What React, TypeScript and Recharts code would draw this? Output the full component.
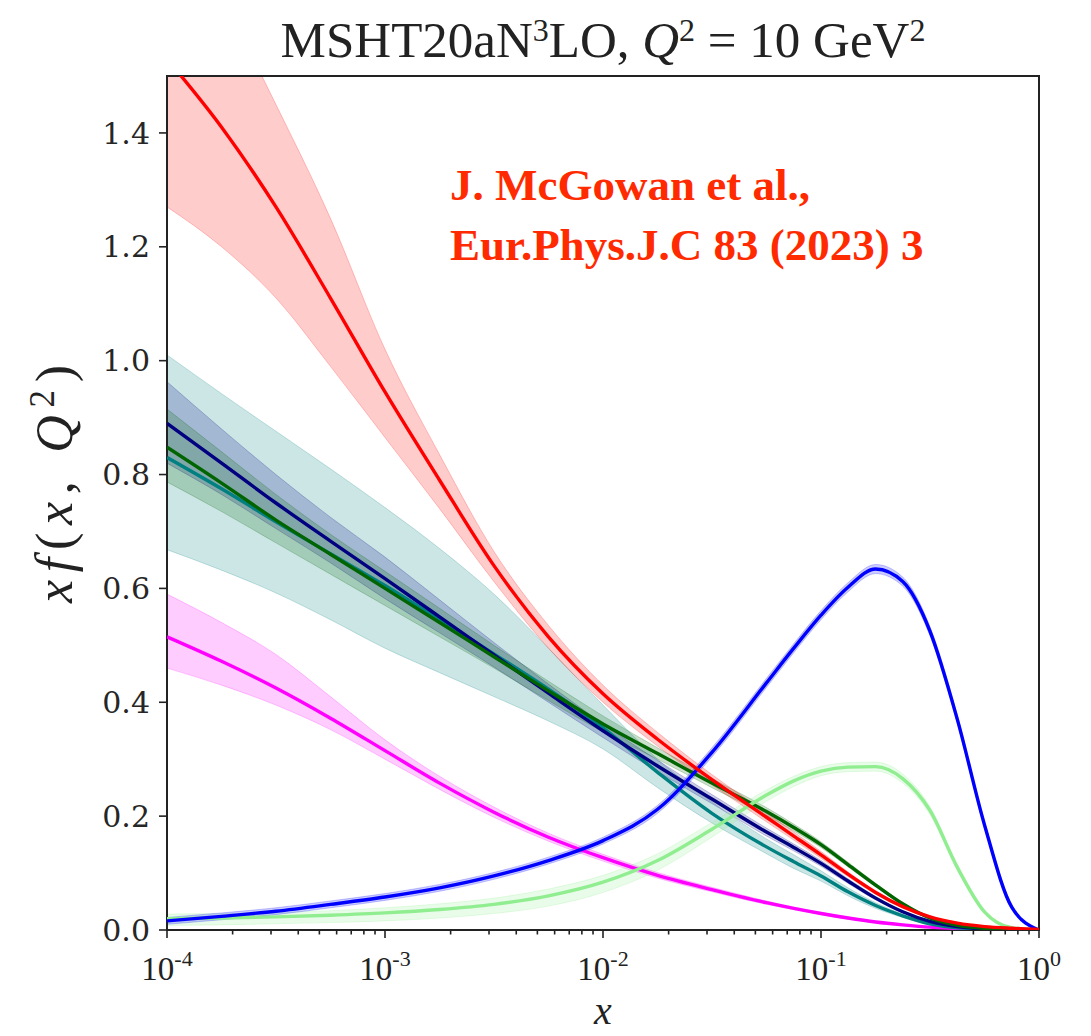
import {
  ComposedChart,
  Area,
  Line,
  XAxis,
  YAxis,
  ReferenceArea,
} from 'recharts'

// log-spaced sampling points shared by every curve
const xGrid = [
  1e-4, 1.78e-4, 3.16e-4, 5.62e-4, 1e-3, 1.78e-3, 3.16e-3, 5.62e-3, 1e-2,
  1.78e-2, 3.16e-2, 5.62e-2, 7.5e-2, 0.1, 0.133, 0.178, 0.237, 0.316, 0.422,
  0.562, 0.75, 1,
]

// g/10
const gluon = [1.53, 1.41, 1.27, 1.11, 0.945, 0.79, 0.64, 0.515, 0.415, 0.335, 0.264, 0.198, 0.165, 0.132, 0.098, 0.066, 0.041, 0.023, 0.012, 0.006, 0.003, 0.001]
const gluonLo = [1.27, 1.2, 1.11, 0.99, 0.865, 0.74, 0.612, 0.495, 0.4, 0.323, 0.255, 0.19, 0.158, 0.126, 0.094, 0.063, 0.039, 0.021, 0.011, 0.005, 0.002, 0.0005]
const gluonHi = [1.82, 1.64, 1.45, 1.25, 1.02, 0.835, 0.665, 0.535, 0.43, 0.347, 0.273, 0.206, 0.172, 0.138, 0.102, 0.069, 0.043, 0.025, 0.013, 0.007, 0.004, 0.002]

// u valence
const uv = [0.016, 0.024, 0.033, 0.045, 0.058, 0.074, 0.095, 0.122, 0.157, 0.212, 0.312, 0.434, 0.495, 0.553, 0.602, 0.634, 0.612, 0.525, 0.37, 0.185, 0.04, 0]
const uvLo = [0.01, 0.018, 0.027, 0.039, 0.052, 0.068, 0.089, 0.116, 0.151, 0.205, 0.304, 0.426, 0.487, 0.545, 0.594, 0.626, 0.604, 0.517, 0.363, 0.179, 0.036, 0]
const uvHi = [0.022, 0.03, 0.039, 0.051, 0.064, 0.08, 0.101, 0.128, 0.163, 0.219, 0.32, 0.442, 0.503, 0.561, 0.61, 0.642, 0.62, 0.533, 0.377, 0.191, 0.044, 0]

// d valence
const dv = [0.02, 0.021, 0.023, 0.026, 0.03, 0.036, 0.045, 0.06, 0.084, 0.122, 0.177, 0.237, 0.262, 0.279, 0.286, 0.287, 0.266, 0.21, 0.11, 0.032, 0.004, 0]
const dvLo = [0.008, 0.009, 0.011, 0.013, 0.016, 0.021, 0.029, 0.042, 0.066, 0.105, 0.163, 0.226, 0.252, 0.271, 0.278, 0.279, 0.258, 0.203, 0.105, 0.029, 0.002, 0]
const dvHi = [0.028, 0.029, 0.031, 0.034, 0.039, 0.046, 0.056, 0.072, 0.096, 0.134, 0.189, 0.246, 0.27, 0.287, 0.294, 0.295, 0.274, 0.217, 0.115, 0.035, 0.005, 0]

// anti-up
const ubar = [0.89, 0.82, 0.75, 0.683, 0.617, 0.55, 0.483, 0.416, 0.35, 0.288, 0.23, 0.172, 0.145, 0.117, 0.086, 0.056, 0.032, 0.015, 0.006, 0.002, 0.001, 0]
const ubarLo = [0.82, 0.765, 0.705, 0.645, 0.582, 0.522, 0.462, 0.4, 0.338, 0.278, 0.222, 0.165, 0.139, 0.112, 0.082, 0.053, 0.03, 0.014, 0.005, 0.001, 0, 0]
const ubarHi = [0.963, 0.88, 0.8, 0.725, 0.655, 0.58, 0.505, 0.432, 0.362, 0.298, 0.238, 0.179, 0.151, 0.122, 0.09, 0.059, 0.034, 0.016, 0.007, 0.003, 0.001, 0]

// anti-down
const dbar = [0.848, 0.785, 0.72, 0.66, 0.6, 0.54, 0.48, 0.42, 0.362, 0.31, 0.258, 0.208, 0.18, 0.15, 0.115, 0.079, 0.046, 0.021, 0.008, 0.003, 0.001, 0]
const dbarLo = [0.787, 0.735, 0.68, 0.625, 0.57, 0.515, 0.46, 0.403, 0.348, 0.3, 0.25, 0.201, 0.174, 0.145, 0.111, 0.076, 0.044, 0.019, 0.007, 0.002, 0.001, 0]
const dbarHi = [0.915, 0.84, 0.765, 0.695, 0.63, 0.565, 0.5, 0.437, 0.376, 0.32, 0.266, 0.215, 0.186, 0.155, 0.119, 0.082, 0.048, 0.022, 0.009, 0.004, 0.001, 0]

// strange
const strange = [0.83, 0.775, 0.717, 0.661, 0.605, 0.545, 0.485, 0.423, 0.355, 0.277, 0.205, 0.146, 0.12, 0.095, 0.067, 0.043, 0.025, 0.011, 0.004, 0.002, 0.001, 0]
const strangeLo = [0.668, 0.632, 0.592, 0.545, 0.495, 0.452, 0.41, 0.367, 0.318, 0.25, 0.188, 0.134, 0.108, 0.086, 0.06, 0.038, 0.022, 0.009, 0.003, 0.001, 0, 0]
const strangeHi = [1.01, 0.942, 0.876, 0.81, 0.742, 0.67, 0.59, 0.495, 0.395, 0.3, 0.225, 0.16, 0.132, 0.104, 0.074, 0.048, 0.028, 0.013, 0.005, 0.002, 0.001, 0]

// charm
const charm = [0.515, 0.472, 0.425, 0.372, 0.315, 0.258, 0.207, 0.163, 0.127, 0.096, 0.071, 0.048, 0.038, 0.029, 0.021, 0.014, 0.009, 0.005, 0.003, 0.001, 0, 0]
const charmLo = [0.46, 0.43, 0.395, 0.352, 0.3, 0.247, 0.198, 0.156, 0.121, 0.091, 0.067, 0.045, 0.036, 0.027, 0.019, 0.013, 0.008, 0.004, 0.002, 0.0005, 0, 0]
const charmHi = [0.59, 0.54, 0.484, 0.41, 0.334, 0.27, 0.216, 0.17, 0.133, 0.101, 0.075, 0.051, 0.04, 0.031, 0.023, 0.015, 0.01, 0.006, 0.004, 0.0015, 0, 0]

const yTicks = [0, 0.2, 0.4, 0.6, 0.8, 1.0, 1.2, 1.4]
const xMajorTicks = [1e-4, 1e-3, 1e-2, 1e-1, 1]
const xTickExponents = ['-4', '-3', '-2', '-1', '0']
const xMinorTicks = [1e-4, 1e-3, 1e-2, 1e-1].flatMap((d) =>
  [2, 3, 4, 5, 6, 7, 8, 9].map((m) => m * d)
)

// drawing order: bands first, then central lines
const series = [
  { key: 'charm', color: '#ff00ff', c: charm, lo: charmLo, hi: charmHi },
  { key: 'strange', color: '#008080', c: strange, lo: strangeLo, hi: strangeHi },
  { key: 'ubar', color: '#000080', c: ubar, lo: ubarLo, hi: ubarHi },
  { key: 'dbar', color: '#006400', c: dbar, lo: dbarLo, hi: dbarHi },
  { key: 'dv', color: '#90ee90', c: dv, lo: dvLo, hi: dvHi },
  { key: 'uv', color: '#0000ff', c: uv, lo: uvLo, hi: uvHi },
  { key: 'gluon', color: '#ff0000', c: gluon, lo: gluonLo, hi: gluonHi },
]

const data = xGrid.map((x, i) => {
  const row: Record<string, number | number[]> = { x }
  series.forEach((s) => {
    row[s.key] = s.c[i]
    row[s.key + 'Band'] = [s.lo[i], s.hi[i]]
  })
  return row
})

const W = 1083
const H = 1028
const serif = '"Liberation Serif", "Times New Roman", serif'

function LogTick(props: any) {
  const { x, y, payload } = props
  const idx = xMajorTicks.indexOf(payload.value)
  const major = idx >= 0
  return (
    <g>
      <line x1={x} x2={x} y1={y} y2={y + (major ? 8 : 4.5)} stroke='#222' strokeWidth={1.6} />
      {major && (
        <text x={x} y={y + 50} textAnchor='middle' fontFamily={serif} fontSize={33} fill='#222'>
          10
          <tspan dy={-14} fontSize={22}>{xTickExponents[idx]}</tspan>
        </text>
      )}
    </g>
  )
}

export default function App() {
  return (
    <div style={{ position: 'relative', width: W, height: H }}>
      <ComposedChart
        width={W}
        height={H}
        data={data}
        margin={{ top: 68, right: 52, left: 0, bottom: 0 }}
      >
        <XAxis
          dataKey='x'
          type='number'
          scale='log'
          domain={[1e-4, 1]}
          allowDataOverflow
          ticks={[...xMajorTicks, ...xMinorTicks]}
          interval={0}
          tick={(p: any) => <LogTick {...p} />}
          tickLine={false}
          tickSize={0}
          tickMargin={0}
          axisLine={false}
          height={106}
        />
        <YAxis
          type='number'
          domain={[0, 1.5]}
          allowDataOverflow
          ticks={yTicks}
          interval={0}
          tickFormatter={(v: number) => v.toFixed(1)}
          tick={{ fontFamily: '"DejaVu Serif", serif', fontSize: 30, fill: '#262626' }}
          tickSize={8}
          tickMargin={9}
          tickLine={{ stroke: '#222', strokeWidth: 1.6 }}
          axisLine={false}
          width={159}
        />
        {series.map((s) => (
          <Area
            key={s.key + 'Band'}
            dataKey={s.key + 'Band'}
            type='monotone'
            stroke={s.color}
            strokeOpacity={0.22}
            strokeWidth={1}
            fill={s.color}
            fillOpacity={0.2}
            isAnimationActive={false}
          />
        ))}
        {series.map((s) => (
          <Line
            key={s.key}
            dataKey={s.key}
            type='monotone'
            stroke={s.color}
            strokeWidth={3.4}
            dot={false}
            isAnimationActive={false}
          />
        ))}
        <ReferenceArea
          x1={1e-4}
          x2={1}
          y1={0}
          y2={1.5}
          fill='none'
          stroke='#222'
          strokeWidth={2}
        />
      </ComposedChart>
      <svg
        width={W}
        height={H}
        style={{ position: 'absolute', left: 0, top: 0, pointerEvents: 'none' }}
      >
        <text x={595} y={49} textAnchor='middle' fontFamily={serif} fontSize={51} fill='#222'>
          MSHT20aN
          <tspan dy={-16} fontSize={32}>3</tspan>
          <tspan dy={16}>LO, </tspan>
          <tspan fontStyle='italic'>Q</tspan>
          <tspan dy={-16} fontSize={32}>2</tspan>
          <tspan dy={16}> = 10 GeV</tspan>
          <tspan dy={-16} fontSize={32}>2</tspan>
        </text>
        <text x={442} y={192} fontFamily={serif} fontWeight='bold' fontSize={45} fill='#ff2a00'>
          J. McGowan et al.,
        </text>
        <text x={442} y={252} fontFamily={serif} fontWeight='bold' fontSize={45} fill='#ff2a00'>
          Eur.Phys.J.C 83 (2023) 3
        </text>
        <text x={595} y={1016} textAnchor='middle' fontFamily={serif} fontStyle='italic' fontSize={40} fill='#222'>
          x
        </text>
        <text
          transform='translate(64 476) rotate(-90)'
          textAnchor='middle'
          fontFamily={serif}
          fontSize={52}
          fill='#222'
          textLength={238}
          lengthAdjust='spacing'
        >
          <tspan fontStyle='italic'>xf</tspan>(<tspan fontStyle='italic'>x</tspan>, <tspan fontStyle='italic'>Q</tspan>
          <tspan dy={-18} fontSize={35}>2</tspan>
          <tspan dy={18}>)</tspan>
        </text>
      </svg>
    </div>
  )
}
